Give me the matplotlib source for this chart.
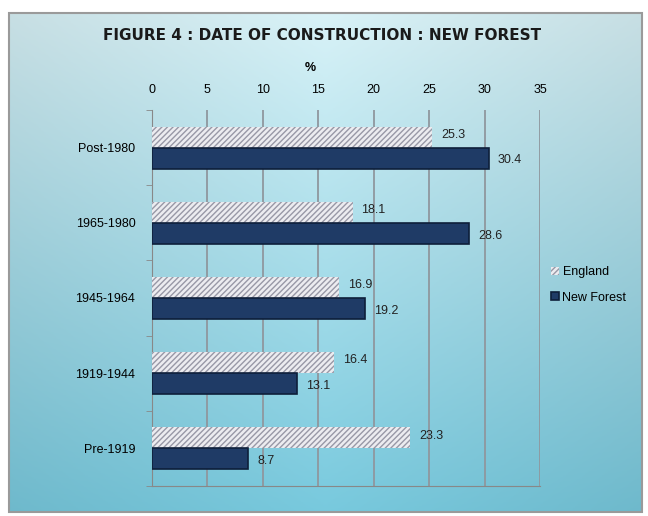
import numpy as np
import matplotlib.pyplot as plt
from matplotlib.patches import Rectangle

categories = ['Post-1980', '1965-1980', '1945-1964', '1919-1944', 'Pre-1919']
england = [25.3, 18.1, 16.9, 16.4, 23.3]
new_forest = [30.4, 28.6, 19.2, 13.1, 8.7]

font = ['Liberation Sans', 'DejaVu Sans']

fig = plt.figure(figsize=(6.48, 5.16), dpi=100)
W, H = 648, 516

# background panel with a blue gradient
bg = fig.add_axes([0, 0, 1, 1], zorder=-10)
bg.set_xlim(0, W)
bg.set_ylim(H, 0)
bg.axis('off')
grad = np.linspace(0, 1, 256)[:, None]
x_grad = np.linspace(0, 1, 256)[None, :]
top = np.array([0.85, 0.95, 0.97])
bottom = np.array([0.47, 0.79, 0.87])
shade = 1 - 0.08 * np.abs(x_grad - 0.5) * 2
img = (top[None, None, :] * (1 - grad[..., None]) + bottom[None, None, :] * grad[..., None])
img = img * shade[..., None]
bg.imshow(np.clip(img, 0, 1), extent=[9, 642, 512, 13], aspect='auto', zorder=0)
bg.add_patch(Rectangle((9, 13), 633, 499, fill=False, edgecolor='#9a9a9a', lw=1.5, zorder=1))

bg.text(322, 35, 'FIGURE 4 : DATE OF CONSTRUCTION : NEW FOREST', ha='center', va='center',
        fontsize=11, fontweight='bold', family='DejaVu Sans', color='#1a1a1a')

# main chart axes
ax = fig.add_axes([152 / W, 1 - 486 / H, (540 - 152) / W, (486 - 110) / H])
ax.patch.set_alpha(0)
y = np.arange(len(categories))
h = 0.28
ax.barh(y - h / 2, england, height=h, facecolor='#ececf0', edgecolor='#9898a6',
        hatch='//////', lw=0, label='England', zorder=3)
ax.barh(y + h / 2, new_forest, height=h, facecolor='#1f3b66', edgecolor='#0e1f3a',
        lw=1.2, label='New Forest', zorder=3)

for i in range(len(categories)):
    ax.text(england[i] + 0.8, y[i] - h / 2 - 0.03, f'{england[i]}', va='center', ha='left',
            fontsize=9, family=font, color='#222222')
    ax.text(new_forest[i] + 0.8, y[i] + h / 2 + 0.03, f'{new_forest[i]}', va='center', ha='left',
            fontsize=9, family=font, color='#222222')

ax.set_xlim(0, 35)
ax.set_ylim(len(categories) - 0.5, -0.5)
ax.set_xticks(range(0, 36, 5))
ax.xaxis.tick_top()
# axis title "%" sits a little left of centre, above the tick labels
ax.text(14.3, -0.98, '%', ha='center', va='bottom', fontsize=9, fontweight='bold', family=font)
ax.set_yticks(y)
ax.set_yticklabels(categories, fontsize=9, family=font)
ax.set_yticks(np.arange(-0.5, len(categories)), minor=True)
ax.tick_params(axis='y', which='major', length=0, pad=12)
ax.tick_params(axis='y', which='minor', length=4, color='#888888', direction='out')
ax.tick_params(axis='x', length=0, pad=10, labelsize=9)
for lab in ax.get_xticklabels():
    lab.set_family(font)
ax.grid(axis='x', color='#8f979e', lw=1.3, zorder=1)
for s in ['top', 'right']:
    ax.spines[s].set_visible(False)
ax.spines['left'].set_color('#888888')
ax.spines['bottom'].set_color('#888888')

ax.legend(loc='center left', bbox_to_anchor=(1.0, 0.535), frameon=False,
          prop={'family': font, 'size': 9}, handlelength=0.6, handleheight=0.6,
          handletextpad=0.3, labelspacing=1.1)

fig.savefig('out.png', dpi=100)
